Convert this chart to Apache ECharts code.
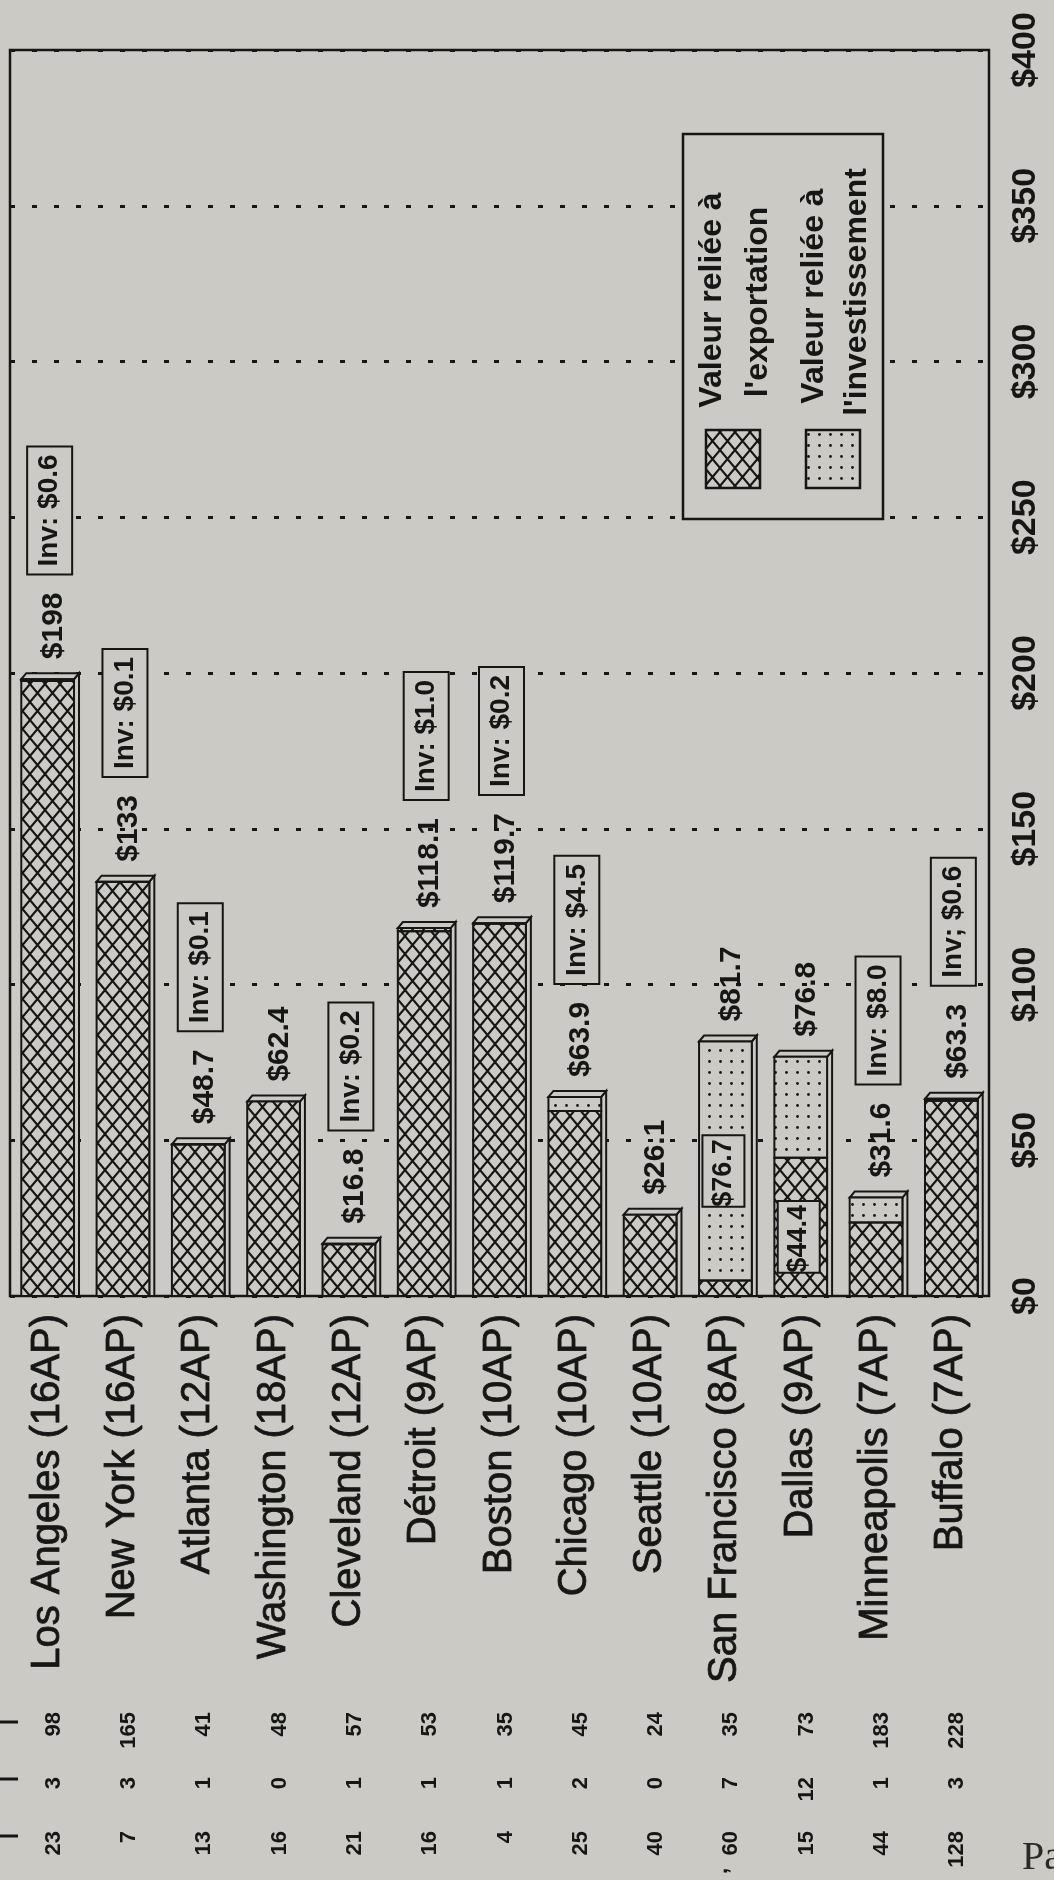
<!DOCTYPE html>
<html>
<head>
<meta charset="utf-8">
<script src="https://cdn.jsdelivr.net/npm/echarts@6/dist/echarts.min.js"></script>
<style>
  html, body { margin: 0; padding: 0; background: #cbcac5; overflow: hidden; }
  #chart { width: 1054px; height: 1880px; }
</style>
</head>
<body>
<div id="chart"></div>
<script>
// Villes (nombre d'AP) et valeurs en millions de dollars
const cities = [
  'Los Angeles (16AP)', 'New York (16AP)', 'Atlanta (12AP)', 'Washington (18AP)',
  'Cleveland (12AP)', 'Détroit (9AP)', 'Boston (10AP)', 'Chicago (10AP)',
  'Seattle (10AP)', 'San Francisco (8AP)', 'Dallas (9AP)', 'Minneapolis (7AP)', 'Buffalo (7AP)'
];
// Valeur reliée à l'exportation
const exportValues = [197.4, 132.9, 48.6, 62.4, 16.6, 117.1, 119.5, 59.4, 26.1, 5.0, 44.4, 23.6, 62.7];
// Valeur reliée à l'investissement
const investValues = [0.6, 0.1, 0.1, 0, 0.2, 1.0, 0.2, 4.5, 0, 76.7, 32.4, 8.0, 0.6];
// Segment annotated inside the bar itself (instead of the "Inv" box)
const insideLabelSegment = [null, null, null, null, null, null, null, null, null, 'invest', 'export', null, null];
// Separator printed in the "Inv" box
const invSeparator = [':', ':', ':', ':', ':', ':', ':', ':', ':', ':', ':', ':', ';'];
// Value axis tick labels
const valueTickLabels = ['$0', '$50', '$100', '$150', '$200', '$250', '$300', '$350', '$400'];
// Table columns printed under each city
const tableCol1 = [23, 7, 13, 16, 21, 16, 4, 25, 40, 60, 15, 44, 128];
const tableCol2 = [3, 3, 1, 0, 1, 1, 1, 2, 0, 7, 12, 1, 3];
const tableCol3 = [98, 165, 41, 48, 57, 53, 35, 45, 24, 35, 73, 183, 228];

const PAPER = '#cbcac5';
const INK = '#161616';
const SANS = '"Liberation Sans", Arial, Helvetica, sans-serif';
const DX = 5, DY = 6;           // depth of the 3-D bars
const ROT = Math.PI / 2;        // text reading bottom to top

function hatchCanvas() {
  const w = 15, h = 18;
  const c = document.createElement('canvas');
  c.width = w; c.height = h;
  const g = c.getContext('2d');
  g.strokeStyle = INK; g.lineWidth = 2.1;
  g.beginPath();
  for (const o of [-w, 0, w]) {
    g.moveTo(o, 0); g.lineTo(o + w, h);
    g.moveTo(o + w, 0); g.lineTo(o, h);
  }
  g.stroke();
  return c;
}
function dotCanvas() {
  const c = document.createElement('canvas');
  c.width = 11; c.height = 11;
  const g = c.getContext('2d');
  g.fillStyle = INK;
  g.beginPath(); g.arc(5.5, 5.5, 1.4, 0, Math.PI * 2); g.fill();
  return c;
}
const hatchFill = { image: hatchCanvas(), repeat: 'repeat' };
const dotFill = { image: dotCanvas(), repeat: 'repeat' };

const measureCtx = document.createElement('canvas').getContext('2d');
function textWidth(str, font) { measureCtx.font = font; return measureCtx.measureText(str).width; }
function money(v) {
  const r = Math.round(v * 10) / 10;
  return '$' + (Number.isInteger(r) ? String(r) : r.toFixed(1));
}

const VALUE_FONT = 30, BOX_FONT = 28, INSIDE_FONT = 27;

function renderBar(params, api) {
  const i = api.value(0), e = api.value(1), v = api.value(2);
  const base = api.coord([i, 0]);
  const yE = api.coord([i, e])[1];
  const yT = api.coord([i, e + v])[1];
  const w = api.size([1, 0])[0] * 0.7;
  const x0 = base[0] - w / 2, x1 = base[0] + w / 2, y0 = base[1];
  const edge = { stroke: INK, lineWidth: 2 };
  const children = [
    { type: 'polygon', shape: { points: [[x1, y0], [x1, yT], [x1 + DX, yT - DY], [x1 + DX, y0]] },
      style: Object.assign({ fill: PAPER }, edge) },
    { type: 'polygon', shape: { points: [[x0, yT], [x0 + DX, yT - DY], [x1 + DX, yT - DY], [x1, yT]] },
      style: Object.assign({ fill: PAPER }, edge) },
    // opaque front face under the fill patterns
    { type: 'rect', shape: { x: x0, y: yT, width: w, height: y0 - yT }, style: { fill: PAPER } },
    { type: 'rect', shape: { x: x0, y: yE, width: w, height: y0 - yE },
      style: Object.assign({ fill: hatchFill }, edge) }
  ];
  if (v > 0) {
    children.push({ type: 'rect', shape: { x: x0, y: yT, width: w, height: yE - yT },
      style: Object.assign({ fill: dotFill }, edge) });
  }
  return { type: 'group', children };
}

function renderLabels(params, api) {
  const i = params.dataIndex;
  const e = exportValues[i], v = investValues[i];
  const cx = api.coord([i, 0])[0];
  const yT = api.coord([i, e + v])[1];
  const children = [];
  const valueText = money(e + v);
  const vFont = 'bold ' + VALUE_FONT + 'px ' + SANS;
  const labelStart = yT - 20;
  children.push({ type: 'text', x: cx + 6, y: labelStart, rotation: ROT,
    style: { text: valueText, fontSize: VALUE_FONT, fontWeight: 'bold', fontFamily: SANS,
             fill: INK, align: 'left', verticalAlign: 'middle' } });
  const seg = insideLabelSegment[i];
  if (seg) {
    const lo = seg === 'export' ? 0 : e;
    const hi = seg === 'export' ? e : e + v;
    const val = seg === 'export' ? e : v;
    const yMid = api.coord([i, (lo + hi) / 2])[1] + 10;
    const txt = money(val);
    const h = textWidth(txt, 'bold ' + INSIDE_FONT + 'px ' + SANS) + 4;
    const bw = 42;
    children.push({ type: 'rect', shape: { x: cx - 2 - bw / 2, y: yMid - h / 2, width: bw, height: h },
      style: { fill: PAPER, stroke: INK, lineWidth: 2 } });
    children.push({ type: 'text', x: cx - 2, y: yMid + 2, rotation: ROT,
      style: { text: txt, fontSize: INSIDE_FONT, fontWeight: 'bold', fontFamily: SANS,
               fill: INK, align: 'center', verticalAlign: 'middle' } });
  } else if (v > 0) {
    const txt = 'Inv' + invSeparator[i] + ' $' + v.toFixed(1);
    const tw = textWidth(txt, 'bold ' + BOX_FONT + 'px ' + SANS);
    const h = tw + 16, bw = 45;
    const bottom = labelStart - textWidth(valueText, vFont) - 18;
    children.push({ type: 'rect', shape: { x: cx + 2 - bw / 2, y: bottom - h, width: bw, height: h },
      style: { fill: PAPER, stroke: INK, lineWidth: 2 } });
    children.push({ type: 'text', x: cx + 2, y: bottom - h / 2, rotation: ROT,
      style: { text: txt, fontSize: BOX_FONT, fontWeight: 'bold', fontFamily: SANS,
               fill: INK, align: 'center', verticalAlign: 'middle' } });
  }
  return { type: 'group', children };
}

function renderTable(params, api) {
  const i = params.dataIndex;
  const cx = api.coord([i, 0])[0] + 6;
  const cols = [[tableCol3[i], 1712], [tableCol2[i], 1777], [tableCol1[i], 1831]];
  return { type: 'group', children: cols.map(([val, yEnd]) => ({
    type: 'text', x: cx, y: yEnd, rotation: ROT,
    style: { text: String(val), fontSize: 22, fontWeight: 'bold', fontFamily: SANS,
             fill: INK, align: 'right', verticalAlign: 'middle' }
  })) };
}

const legendFont = { fontSize: 32, fontWeight: 'bold', fontFamily: SANS, fill: INK, align: 'center', verticalAlign: 'middle' };
const legendGraphics = [
  { type: 'rect', shape: { x: 683, y: 134, width: 200, height: 385 }, style: { fill: PAPER, stroke: INK, lineWidth: 2.5 }, z: 50 },
  { type: 'rect', shape: { x: 706, y: 430, width: 54, height: 58 }, style: { fill: hatchFill, stroke: INK, lineWidth: 2.5 }, z: 51 },
  { type: 'rect', shape: { x: 806, y: 430, width: 54, height: 58 }, style: { fill: dotFill, stroke: INK, lineWidth: 2.5 }, z: 51 },
  { type: 'text', x: 712, y: 300, rotation: ROT, style: Object.assign({ text: 'Valeur reliée à' }, legendFont), z: 51 },
  { type: 'text', x: 758, y: 302, rotation: ROT, style: Object.assign({ text: "l'exportation" }, legendFont), z: 51 },
  { type: 'text', x: 814, y: 296, rotation: ROT, style: Object.assign({ text: 'Valeur reliée à' }, legendFont), z: 51 },
  { type: 'text', x: 857, y: 292, rotation: ROT, style: Object.assign({ text: "l'investissement" }, legendFont), z: 51 }
];
const marginGraphics = [
  { type: 'line', shape: { x1: 0, y1: 1722, x2: 18, y2: 1722 }, style: { stroke: INK, lineWidth: 3 } },
  { type: 'line', shape: { x1: 0, y1: 1779, x2: 18, y2: 1779 }, style: { stroke: INK, lineWidth: 3 } },
  { type: 'line', shape: { x1: 0, y1: 1836, x2: 18, y2: 1836 }, style: { stroke: INK, lineWidth: 3 } },
  { type: 'text', x: 721, y: 1871, rotation: ROT,
    style: { text: ',', fontSize: 22, fontWeight: 'bold', fontFamily: SANS, fill: INK, align: 'center', verticalAlign: 'middle' } },
  { type: 'text', x: 1022, y: 1858,
    style: { text: 'Pa', fontSize: 40, fontFamily: '"Liberation Serif", "Times New Roman", serif', fill: '#2a2a2a', align: 'left', verticalAlign: 'middle' } }
];

const chart = echarts.init(document.getElementById('chart'), null, { renderer: 'canvas', width: 1054, height: 1880 });
chart.setOption({
  animation: false,
  backgroundColor: PAPER,
  grid: { left: 10, top: 50, right: 65, bottom: 584, show: true, borderColor: INK, borderWidth: 2.5, backgroundColor: 'transparent' },
  xAxis: {
    type: 'category',
    data: cities,
    axisLine: { show: false },
    axisTick: { show: false },
    splitLine: { show: false },
    axisLabel: {
      interval: 0, rotate: 90, margin: 18, fontSize: 40, fontFamily: SANS, color: INK,
      textBorderColor: INK, textBorderWidth: 0.8
    }
  },
  yAxis: {
    type: 'value',
    position: 'right',
    min: 0, max: 400, interval: 50,
    axisLine: { show: false },
    axisTick: { show: false },
    axisLabel: {
      rotate: 90, margin: 20, fontSize: 34, fontWeight: 'bold', fontFamily: SANS, color: INK,
      formatter: (v) => valueTickLabels[Math.round(v / 50)]
    },
    splitLine: { show: true, lineStyle: { color: INK, width: 3, type: [5, 17] } }
  },
  graphic: legendGraphics.concat(marginGraphics),
  series: [
    {
      type: 'custom', name: 'bars', clip: false, z: 3,
      renderItem: renderBar,
      encode: { x: 0, y: 1 },
      data: cities.map((c, i) => [i, exportValues[i], investValues[i]])
    },
    {
      type: 'custom', name: 'labels', clip: false, z: 4,
      renderItem: renderLabels,
      encode: { x: 0, y: 1 },
      data: cities.map((c, i) => [i, 0])
    },
    {
      type: 'custom', name: 'table', clip: false, z: 4,
      renderItem: renderTable,
      encode: { x: 0, y: 1 },
      data: cities.map((c, i) => [i, 0])
    }
  ]
});
</script>
</body>
</html>
